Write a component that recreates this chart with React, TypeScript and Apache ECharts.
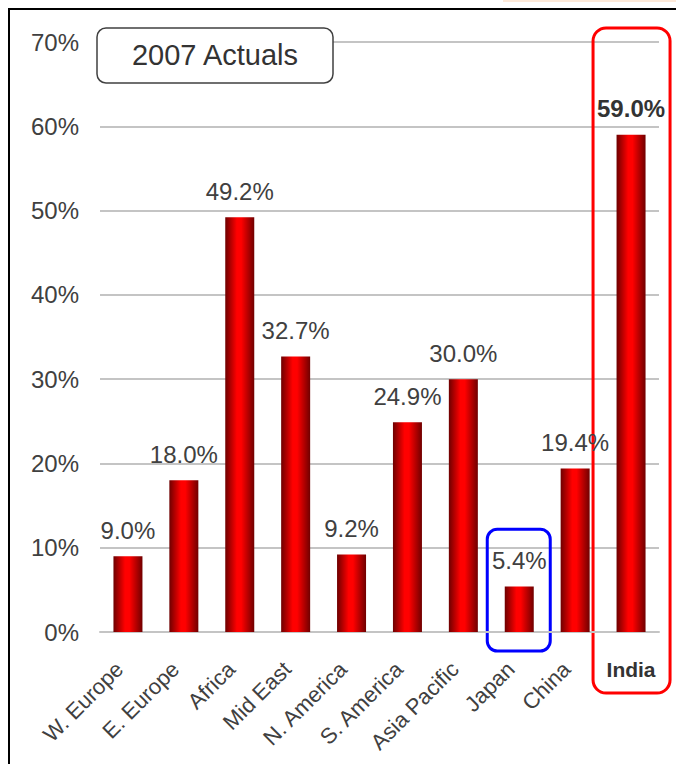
import React, { useEffect, useRef } from 'react';
import * as echarts from 'echarts';

const categories = ['W. Europe', 'E. Europe', 'Africa', 'Mid East', 'N. America', 'S. America', 'Asia Pacific', 'Japan', 'China', 'India'];
const growth = [9.0, 18.0, 49.2, 32.7, 9.2, 24.9, 30.0, 5.4, 19.4, 59.0];
const yMin = 0;
const yMax = 70;
const yStep = 10;
const highlighted = 'India';
const flagged = 'Japan';
const titleText = '2007 Actuals';

const FONT = '"Liberation Sans", Arial, Helvetica, sans-serif';
const TXT = '#404040';

export default function App() {
  const ref = useRef<HTMLDivElement>(null);
  useEffect(() => {
    if (!ref.current) return;
    const chart = echarts.init(ref.current, undefined, { renderer: 'svg' });
    const barGrad = new echarts.graphic.LinearGradient(0, 0, 1, 0, [
      { offset: 0, color: '#6e0000' },
      { offset: 0.4, color: '#ff0000' },
      { offset: 0.55, color: '#ff0000' },
      { offset: 1, color: '#700000' },
    ]);
    const option: any = {
      animation: false,
      backgroundColor: '#ffffff',
      textStyle: { fontFamily: FONT },
      grid: { left: 100, right: 17, top: 42, bottom: 132, containLabel: false },
      xAxis: [
        {
          type: 'category',
          data: categories,
          axisLine: { show: true, lineStyle: { color: '#c4c4c4', width: 2 } },
          axisTick: { show: false },
          axisLabel: {
            interval: 0,
            rotate: 45,
            margin: 25,
            padding: [0, 12, 0, 0],
            fontSize: 22,
            color: TXT,
            fontFamily: FONT,
            formatter: (v: string) => (v === highlighted ? '' : v),
          },
        },
        {
          type: 'category',
          data: categories,
          position: 'bottom',
          gridIndex: 0,
          axisLine: { show: false },
          axisTick: { show: false },
          splitLine: { show: false },
          axisLabel: {
            interval: 0,
            rotate: 0,
            margin: 27,
            fontSize: 21,
            fontWeight: 'bold',
            color: '#333333',
            fontFamily: FONT,
            formatter: (v: string) => (v === highlighted ? v : ''),
          },
        },
      ],
      yAxis: {
        type: 'value',
        min: yMin,
        max: yMax,
        interval: yStep,
        axisLine: { show: false },
        axisTick: { show: false },
        axisLabel: { formatter: '{value}%', fontSize: 24, color: TXT, margin: 21, fontFamily: FONT },
        splitLine: { lineStyle: { color: '#c4c4c4', width: 2 } },
      },
      series: [
        {
          type: 'bar',
          xAxisIndex: 0,
          barWidth: 29,
          data: growth.map((v, i) => ({
            value: v,
            label:
              categories[i] === highlighted
                ? { fontWeight: 'bold', color: '#333333' }
                : undefined,
          })),
          itemStyle: { color: barGrad },
          label: {
            show: true,
            position: 'top',
            distance: 14,
            fontSize: 24,
            color: TXT,
            fontFamily: FONT,
            formatter: (p: any) => Number(p.value).toFixed(1) + '%',
          },
        },
      ],
    };
    chart.setOption(option);

    const y0 = chart.convertToPixel({ yAxisIndex: 0 }, 0) as number;
    const yJTop = chart.convertToPixel({ yAxisIndex: 0 }, 12.2) as number;
    const xJ = chart.convertToPixel({ xAxisIndex: 0 }, flagged) as number;
    const xI = chart.convertToPixel({ xAxisIndex: 0 }, highlighted) as number;

    chart.setOption({
      graphic: [
        { type: 'rect', shape: { x: 503, y: 0, width: 173, height: 2 }, style: { fill: '#fde9d9' }, silent: true },
        { type: 'line', shape: { x1: 8, y1: 9, x2: 676, y2: 9 }, style: { stroke: '#000000', lineWidth: 2 }, silent: true },
        { type: 'line', shape: { x1: 9, y1: 9, x2: 9, y2: 764 }, style: { stroke: '#000000', lineWidth: 2 }, silent: true },
        {
          type: 'rect',
          shape: { x: 97, y: 28, width: 236, height: 55, r: 9 },
          style: { fill: '#ffffff', stroke: '#404040', lineWidth: 1.5 },
          silent: true,
        },
        {
          type: 'text',
          x: 215,
          y: 55,
          style: { text: titleText, fontSize: 29, fill: '#333333', fontFamily: FONT, align: 'center', verticalAlign: 'middle' },
          silent: true,
        },
        {
          type: 'rect',
          shape: { x: xJ - 32, y: yJTop, width: 63, height: y0 + 19 - yJTop, r: 10 },
          style: { fill: 'none', stroke: '#0000ff', lineWidth: 3 },
          silent: true,
        },
        {
          type: 'rect',
          shape: { x: xI - 38, y: 28, width: 77, height: y0 + 61 - 28, r: 13 },
          style: { fill: 'none', stroke: '#ff0000', lineWidth: 3 },
          silent: true,
        },
      ],
    });

    return () => chart.dispose();
  }, []);
  return <div ref={ref} style={{ position: 'fixed', left: 0, top: 0, width: 676, height: 764 }} />;
}
